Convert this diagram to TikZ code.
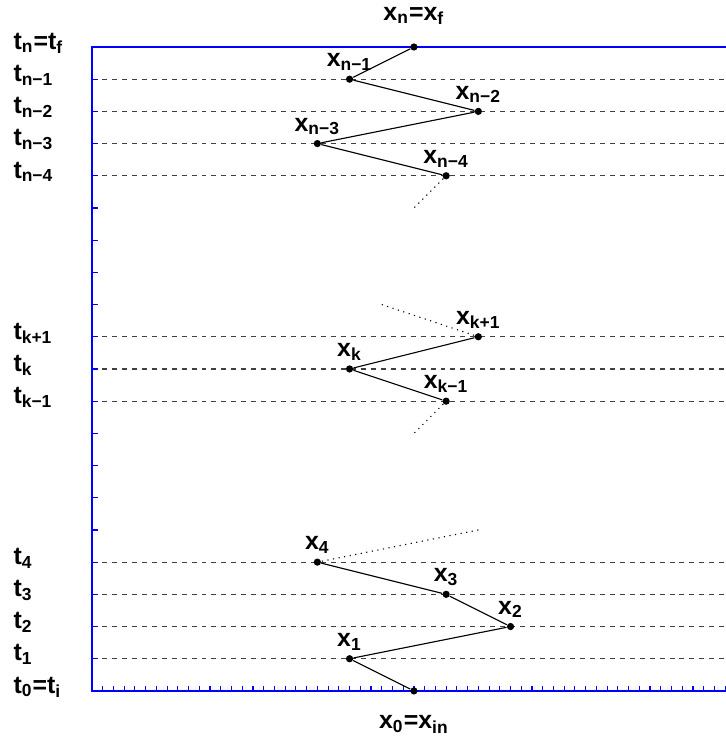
\documentclass[tikz,border=0pt]{standalone}
\usepackage{fontspec}
\setmainfont{Liberation Sans}
\usetikzlibrary{positioning}
\definecolor{axblue}{RGB}{0,0,255}
\tikzset{
  axisline/.style={draw=axblue, line width=1.1pt},
  axtick/.style={draw=axblue, line width=0.5pt},
  level/.style={dash pattern=on 2.2pt off 2.2pt, draw=black!75, line width=0.5pt},
  state/.style={circle, fill=black, inner sep=0pt, minimum size=3.2pt},
  traj/.style={draw=black, line width=0.5pt},
  gap/.style={draw=black, dotted, line width=0.5pt},
  lab/.style={font=\fontsize{11}{13}\selectfont\bfseries, inner sep=0pt},
  tlab/.style={lab, anchor=base west, yshift=-1pt}
}

\begin{document}
\begin{tikzpicture}[x=0.5cm, y=0.5cm, label distance=1.8pt]
\useasboundingbox (-2.857,-1.40) rectangle (19.69,21.46);
% levels and axes
\foreach \r in {1,2,3,4,9,10,11,16,17,18,19} \draw[level] (0,\r) -- (19.69,\r);
\foreach \r in {1,...,19} \draw[axtick] (0,\r) -- (0.2,\r);
\foreach \i in {1,...,59} \draw[axtick] (\i/3,0) -- (\i/3,0.16);
\draw[axisline] (19.69,20) -- (0,20) -- (0,0) -- (19.69,0);
% time labels
\node[tlab] (tn) at (-2.45,20) {t\textsubscript{n}=t\textsubscript{f}};
\node[tlab] (tn1) at (-2.45,19) {t\textsubscript{n−1}};
\node[tlab] (tn2) at (-2.45,18) {t\textsubscript{n−2}};
\node[tlab] (tn3) at (-2.45,17) {t\textsubscript{n−3}};
\node[tlab] (tn4) at (-2.45,16) {t\textsubscript{n−4}};
\node[tlab] (tk1) at (-2.45,11) {t\textsubscript{k+1}};
\node[tlab] (tk) at (-2.45,10) {t\textsubscript{k}};
\node[tlab] (tkm) at (-2.45,9) {t\textsubscript{k−1}};
\node[tlab] (t4) at (-2.45,4) {t\textsubscript{4}};
\node[tlab] (t3) at (-2.45,3) {t\textsubscript{3}};
\node[tlab] (t2) at (-2.45,2) {t\textsubscript{2}};
\node[tlab] (t1) at (-2.45,1) {t\textsubscript{1}};
\node[tlab] (t0) at (-2.45,0) {t\textsubscript{0}=t\textsubscript{i}};
% states
\node[state, label={[lab, label distance=8pt]above:x\textsubscript{n}=x\textsubscript{f}}] (xn) at (10,20) {};
\node[state, label={[lab]above:x\textsubscript{n−1}}] (xn1) at (8,19) {};
\node[state, label={[lab]above:x\textsubscript{n−2}}] (xn2) at (12,18) {};
\node[state, label={[lab]above:x\textsubscript{n−3}}] (xn3) at (7,17) {};
\node[state, label={[lab]above:x\textsubscript{n−4}}] (xn4) at (11,16) {};
\coordinate (gn) at (10,15);
\coordinate (gk) at (9,12);
\node[state, label={[lab]above:x\textsubscript{k+1}}] (xk1) at (12,11) {};
\node[state, label={[lab]above:x\textsubscript{k}}] (xk) at (8,10) {};
\node[state, label={[lab]above:x\textsubscript{k−1}}] (xkm) at (11,9) {};
\coordinate (gkm) at (10,8);
\coordinate (g4) at (12,5);
\node[state, label={[lab]above:x\textsubscript{4}}] (x4) at (7,4) {};
\node[state, label={[lab]above:x\textsubscript{3}}] (x3) at (11,3) {};
\node[state, label={[lab]above:x\textsubscript{2}}] (x2) at (13,2) {};
\node[state, label={[lab]above:x\textsubscript{1}}] (x1) at (8,1) {};
\node[state, label={[lab, label distance=9pt]below:x\textsubscript{0}=x\textsubscript{in}}] (x0) at (10,0) {};
% trajectory
\draw[traj] (xn)--(xn1);\draw[traj] (xn1)--(xn2);\draw[traj] (xn2)--(xn3);\draw[traj] (xn3)--(xn4);\draw[gap] (xn4)--(gn);
\draw[gap] (gk)--(xk1);\draw[traj] (xk1)--(xk);\draw[traj] (xk)--(xkm);\draw[gap] (xkm)--(gkm);
\draw[gap] (g4)--(x4);\draw[traj] (x4)--(x3);\draw[traj] (x3)--(x2);\draw[traj] (x2)--(x1);\draw[traj] (x1)--(x0);
\end{tikzpicture}
\end{document}
